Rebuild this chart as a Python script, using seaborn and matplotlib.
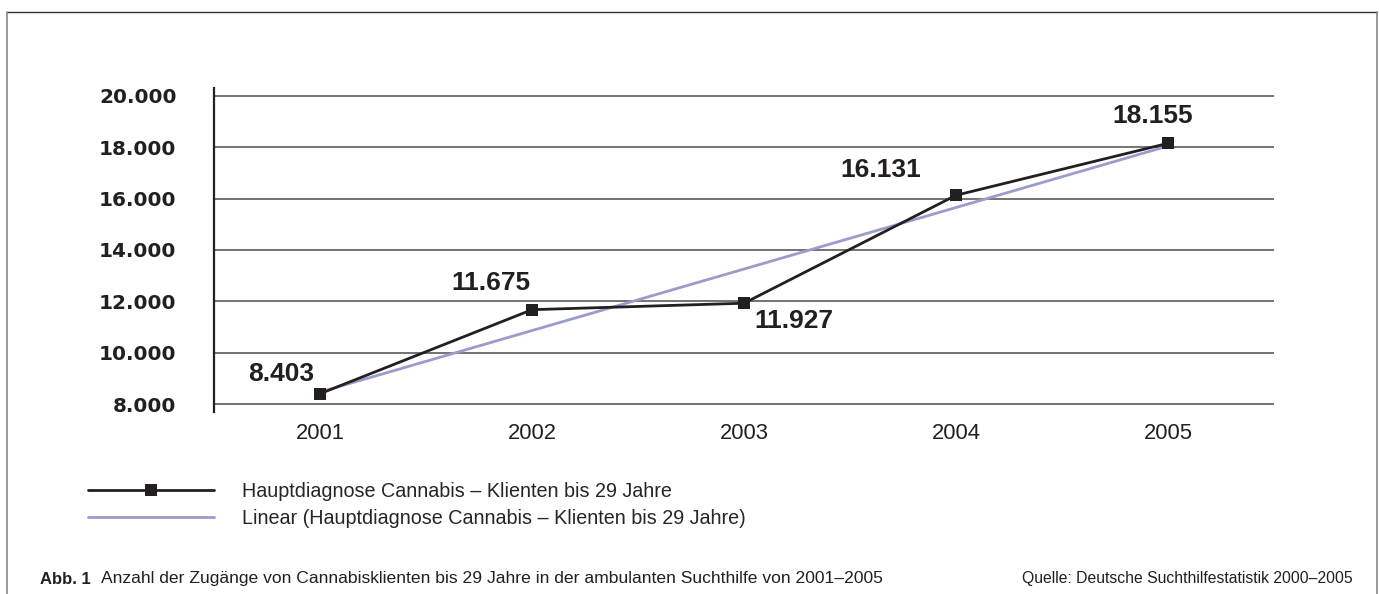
import pandas as pd
import matplotlib.pyplot as plt
import seaborn as sns
from matplotlib.lines import Line2D


years = ["2001", "2002", "2003", "2004", "2005"]
clients = [8403, 11675, 11927, 16131, 18155]
y_ticks = [8000, 10000, 12000, 14000, 16000, 18000, 20000]

# pixel offsets of the value labels relative to their markers
label_offsets = [(-39, 20), (-41, 27), (50, -18), (-75, 25), (-15, 27)]

series_label = "Hauptdiagnose Cannabis \u2013 Klienten bis 29 Jahre"
trend_label = "Linear (Hauptdiagnose Cannabis \u2013 Klienten bis 29 Jahre)"
caption = "Anzahl der Zug\u00e4nge von Cannabisklienten bis 29 Jahre in der ambulanten Suchthilfe von 2001\u20132005"
source = "Quelle: Deutsche Suchthilfestatistik 2000\u20132005"

df = pd.DataFrame({
    "pos": range(len(years)),
    "clients": clients
})

sns.set_style("white")
plt.rcParams["font.family"] = ["Liberation Sans", "DejaVu Sans"]

fig = plt.figure(figsize=(13.79, 5.94), dpi=100)
ax = fig.add_axes([0.1552, 0.3064, 0.7687, 0.5455])

sns.regplot(
    data=df,
    x="pos",
    y="clients",
    scatter=False,
    ci=None,
    color="#9b9bcc",
    line_kws={"linewidth": 2.0, "zorder": 3},
    label=trend_label,
    ax=ax
)

sns.lineplot(
    data=df,
    x="pos",
    y="clients",
    color="#231f20",
    linewidth=2.0,
    marker="s",
    markersize=8.5,
    markeredgewidth=0,
    label=series_label,
    ax=ax,
    zorder=4
)

for i, v in enumerate(clients):
    ax.annotate(
        f"{v:,}".replace(",", "."),
        (i, v),
        xytext=label_offsets[i],
        textcoords="offset pixels",
        ha="center",
        va="center",
        fontsize=19,
        fontweight="bold",
        color="#231f20"
    )

ax.set_xlim(-0.5, 4.5)
ax.set_ylim(7690, 20310)

ax.set_xticks(range(len(years)))
ax.set_xticklabels(years, fontsize=15.8, color="#231f20")
ax.set_yticks(y_ticks)
ax.set_yticklabels(
    [f"{t:,}".replace(",", ".") for t in y_ticks],
    fontsize=14.4,
    fontweight="bold",
    family="DejaVu Sans",
    color="#231f20"
)

ax.tick_params(axis="x", length=0, pad=8)
ax.tick_params(axis="y", length=13, width=1.1, color="#4d4d4d", pad=14)

ax.yaxis.grid(True, color="#4d4d4d", linewidth=1.1)
ax.set_axisbelow(True)

for side in ["top", "right", "bottom"]:
    ax.spines[side].set_visible(False)
ax.spines["left"].set_color("#231f20")
ax.spines["left"].set_linewidth(1.6)

ax.set_xlabel("")
ax.set_ylabel("")

handles, labels = ax.get_legend_handles_labels()
ax.legend_.remove()
order = [labels.index(series_label), labels.index(trend_label)]
fig.legend(
    [handles[i] for i in order],
    [labels[i] for i in order],
    loc="upper left",
    bbox_to_anchor=(0.064, 0.189),
    frameon=False,
    fontsize=14.2,
    handlelength=6.4,
    handletextpad=1.4,
    labelspacing=0.42,
    borderpad=0,
    borderaxespad=0
)

# caption and source line
fig.text(40 / 1379, 1 - 579 / 594, "Abb. 1", fontsize=12,
         fontweight="bold", va="center", ha="left", color="#231f20")
fig.text(101 / 1379, 1 - 579 / 594, caption, fontsize=12.6,
         va="center", ha="left", color="#231f20")
fig.text(1353 / 1379, 1 - 579 / 594, source, fontsize=11.3,
         va="center", ha="right", color="#231f20")

# outer frame (open at the bottom)
fig.add_artist(Line2D([7 / 1379, 1377 / 1379], [1 - 12 / 594, 1 - 12 / 594],
                      color="#333333", linewidth=1.0))
fig.add_artist(Line2D([7 / 1379, 7 / 1379], [0, 1 - 12 / 594],
                      color="#888888", linewidth=1.2))
fig.add_artist(Line2D([1377 / 1379, 1377 / 1379], [0, 1 - 12 / 594],
                      color="#888888", linewidth=1.2))

plt.savefig("out.png", dpi=100)
plt.close()
